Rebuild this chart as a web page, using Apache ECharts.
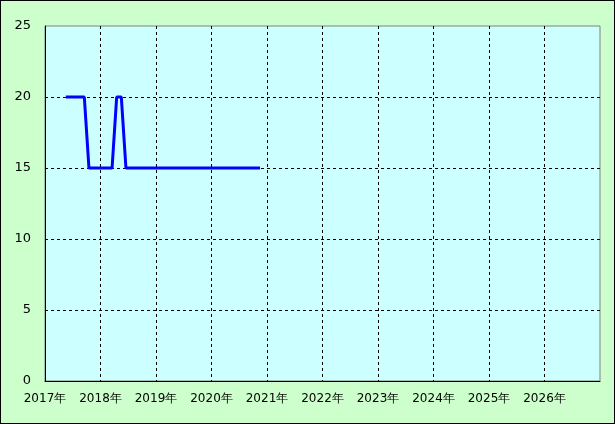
<!DOCTYPE html>
<html>
<head>
<meta charset="utf-8">
<script src="https://cdn.jsdelivr.net/npm/echarts@6/dist/echarts.min.js"></script>
<style>
html,body{margin:0;padding:0;background:#ccffcc;}
#wrap{width:615px;height:424px;box-sizing:border-box;border:1px solid #000;background:#ccffcc;}
#chart{width:613px;height:422px;}
</style>
</head>
<body>
<div id="wrap"><div id="chart"></div></div>
<script>
var months = [
  '2017-05','2017-06','2017-07','2017-08','2017-09','2017-10','2017-11','2017-12',
  '2018-01','2018-02','2018-03','2018-04','2018-05','2018-06','2018-07','2018-08','2018-09','2018-10','2018-11','2018-12',
  '2019-01','2019-02','2019-03','2019-04','2019-05','2019-06','2019-07','2019-08','2019-09','2019-10','2019-11','2019-12',
  '2020-01','2020-02','2020-03','2020-04','2020-05','2020-06','2020-07','2020-08','2020-09','2020-10','2020-11'
];
var values = [
  20,20,20,20,20,15,15,15,
  15,15,15,20,20,15,15,15,15,15,15,15,
  15,15,15,15,15,15,15,15,15,15,15,15,
  15,15,15,15,15,15,15,15,15,15,15
];
var xTickYears = [2017,2018,2019,2020,2021,2022,2023,2024,2025,2026,2027];
var yTicks = [0,5,10,15,20,25];

function monthToYear(s){
  var p = s.split('-');
  return Number(p[0]) + (Number(p[1]) - 0.5) / 12;
}
var seriesData = months.map(function(m,i){ return [monthToYear(m), values[i]]; });

var font = '"MS UI Gothic","DejaVu Sans",sans-serif';
var chart = echarts.init(document.getElementById('chart'), null, {renderer:'canvas'});
chart.setOption({
  backgroundColor: '#ccffcc',
  animation: false,
  grid: {
    left: 44, right: 14, top: 25, bottom: 42,
    show: true, backgroundColor: '#ccffff', borderColor: '#808080', borderWidth: 1
  },
  xAxis: {
    type: 'value',
    min: xTickYears[0], max: xTickYears[xTickYears.length-1], interval: 1,
    axisLine: {show: true, lineStyle: {color: '#000', width: 1}},
    axisTick: {show: false},
    axisLabel: {
      color: '#000', fontSize: 12, fontFamily: font, margin: 12,
      showMaxLabel: false,
      formatter: function(v){ return v + '年'; }
    },
    splitLine: {show: true, showMinLine: false, showMaxLine: false, lineStyle: {color: '#000', type: [3,3], width: 1}}
  },
  yAxis: {
    type: 'value',
    min: yTicks[0], max: yTicks[yTicks.length-1], interval: 5,
    axisLine: {show: true, lineStyle: {color: '#000', width: 1}},
    axisTick: {show: false},
    axisLabel: {color: '#000', fontSize: 13, fontFamily: font, margin: 14},
    splitLine: {show: true, showMinLine: false, showMaxLine: false, lineStyle: {color: '#000', type: [3,3], width: 1}}
  },
  series: [{
    type: 'line',
    data: seriesData,
    showSymbol: false,
    symbol: 'none',
    lineStyle: {color: '#0000ff', width: 3},
    itemStyle: {color: '#0000ff'}
  }]
});
</script>
</body>
</html>
